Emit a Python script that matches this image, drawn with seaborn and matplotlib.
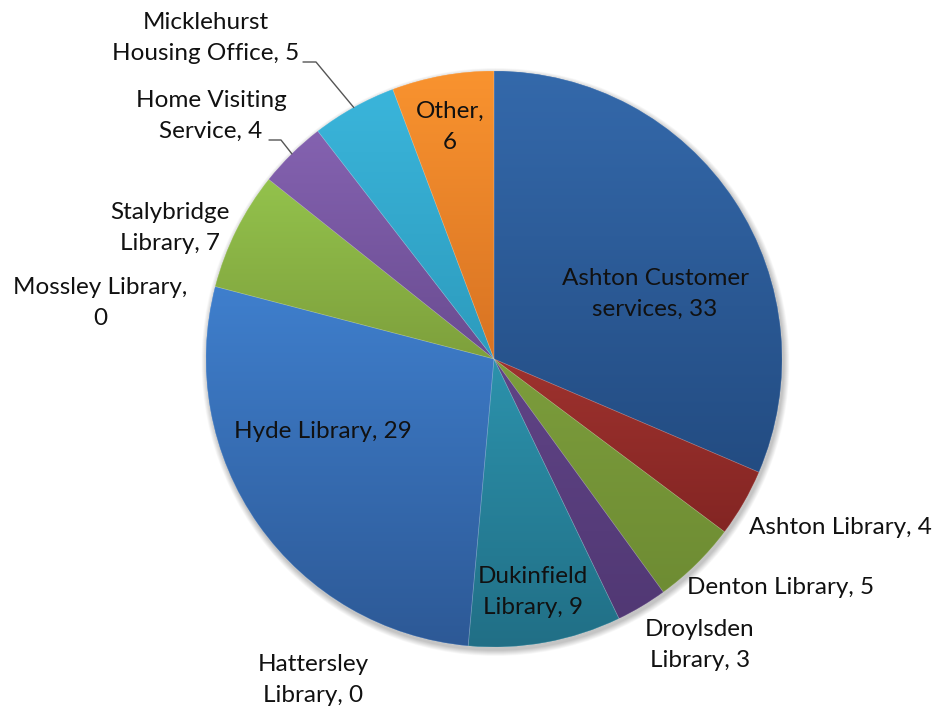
import numpy as np
import matplotlib
matplotlib.use("Agg")
import matplotlib.pyplot as plt
import seaborn as sns
from matplotlib.colors import LinearSegmentedColormap
from matplotlib.patches import Circle, Wedge

# Enquiries by location (clockwise from 12 o'clock)
sites = [
    "Ashton Customer\nservices", "Ashton Library", "Denton Library",
    "Droylsden\nLibrary", "Dukinfield\nLibrary", "Hattersley\nLibrary",
    "Hyde Library", "Mossley Library", "Stalybridge\nLibrary",
    "Home Visiting\nService", "Micklehurst\nHousing Office", "Other",
]
counts = [33, 4, 5, 3, 9, 0, 29, 0, 7, 4, 5, 6]
# whether the value goes on its own line
value_on_new_line = [False, False, False, False, False, False,
                     False, True, False, False, False, True]

# slice gradient colours: top / bottom
top_colors = ["#3469AB", "#9E322E", "#7C9D3C", "#604486", "#2C92AC", "#E07A26",
              "#3F7FCD", "#C0504D", "#93C24C", "#8462B0", "#3AB5DB", "#F9932F"]
bottom_colors = ["#234C82", "#832523", "#6E8C33", "#513874", "#216F86", "#C86A20",
                 "#2D5996", "#A0403D", "#7EA03C", "#6A4C91", "#2D9BBD", "#D87323"]

# label anchor points (pixel coordinates, y downwards)
label_xy = [(655, 294), (840, 527), (781, 588), (700, 645), (533, 592), (313, 680),
            (323, 432), (100, 303), (170, 228), (211, 116), (206, 38), (450, 127)]

W, H = 935, 711
CX, CY, R = 494, 359, 288

sns.set_theme(style="white")
plt.rcParams["font.family"] = ["Lato", "DejaVu Sans"]

fig = plt.figure(figsize=(W / 100, H / 100), dpi=100)
ax = fig.add_axes([0, 0, 1, 1])

# soft drop shadow under the pie
for i in range(12):
    ax.add_patch(Circle((CX + 1.5, CY + 3), R + 0.5 * (12 - i), color="black",
                        alpha=0.018, lw=0, zorder=0))

# y grows downwards, so a clockwise pie from the top is counterclockwise in data
wedges, _ = ax.pie(counts, startangle=-90, counterclock=True,
                   center=(CX, CY), radius=R, colors=top_colors,
                   wedgeprops=dict(linewidth=0))

grad = np.linspace(0, 1, 256)[:, None]
for w, v, c0, c1 in zip(wedges, counts, top_colors, bottom_colors):
    w.set_zorder(1)
    if v == 0:
        continue
    ext = w.get_path().get_extents()
    cmap = LinearSegmentedColormap.from_list("g", [c0, c1])
    im = ax.imshow(grad, cmap=cmap, aspect="auto", origin="upper",
                   extent=(ext.x0, ext.x1, ext.y1, ext.y0), zorder=2,
                   interpolation="bilinear")
    im.set_clip_path(w)
    # faint light seam along the slice edges
    ax.add_patch(Wedge((CX, CY), R, w.theta1, w.theta2, facecolor="none",
                       edgecolor=(1, 1, 1, 0.18), linewidth=0.5, zorder=3))

# labels
for name, v, nl, (lx, ly) in zip(sites, counts, value_on_new_line, label_xy):
    text = f"{name},\n{v}" if nl else f"{name}, {v}"
    ax.text(lx, ly, text, ha="center", va="center", multialignment="center",
            fontsize=17.5, color="#111111", linespacing=1.62, zorder=5)

# leader lines for the two small top-left slices
leaders = {10: (303, 316, 62), 9: (269, 281, 140)}
for idx, (xa, xb, yl) in leaders.items():
    w = wedges[idx]
    mid = np.deg2rad((w.theta1 + w.theta2) / 2)
    ex, ey = CX + R * np.cos(mid), CY + R * np.sin(mid)
    ax.plot([xa, xb, ex], [yl, yl, ey], color="#555555", lw=1.0, zorder=4)

ax.set_xlim(0, W)
ax.set_ylim(H, 0)
ax.set_aspect("equal")
ax.axis("off")
fig.savefig("out.png", dpi=100, facecolor="white")
